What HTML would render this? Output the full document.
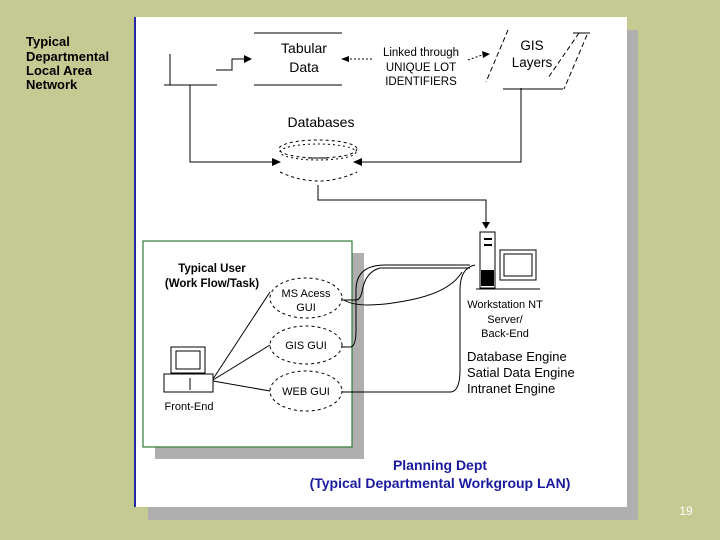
<!DOCTYPE html>
<html><head><style>
html,body{margin:0;padding:0;width:720px;height:540px;overflow:hidden;background:#C5C992;}
svg{display:block;font-family:"Liberation Sans",Arial,sans-serif;}
</style></head><body>
<svg width="720" height="540" viewBox="0 0 720 540">
<rect width="720" height="540" fill="#C5C992"/>
<rect x="148" y="30" width="490" height="490" fill="#AFAFAF"/>
<rect x="135" y="17" width="492" height="490" fill="#fff"/>
<line x1="135" y1="17" x2="135" y2="507" stroke="#2A2AA0" stroke-width="2"/>
<text font-size="13" font-weight="bold" fill="#000"><tspan x="26" y="46">Typical</tspan><tspan x="26" y="61">Departmental</tspan><tspan x="26" y="75">Local Area</tspan><tspan x="26" y="89">Network</tspan></text>
<g stroke="#000" fill="none" stroke-width="1">
<line x1="164" y1="85" x2="217" y2="85"/><line x1="170" y1="54" x2="170" y2="85"/>
<polyline points="216,70 232,70 232,59 244,59"/>
<line x1="254" y1="33" x2="342" y2="33"/><line x1="254" y1="85" x2="342" y2="85"/>
<polyline points="190,85 190,162 272,162"/>
<polyline points="521,88 521,162 362,162"/>
<polyline points="318,185 318,200 486,200 486,222"/>
<line x1="503" y1="89" x2="563" y2="89"/><line x1="573" y1="33" x2="590" y2="33"/>
<line x1="508" y1="30" x2="486" y2="82" stroke-dasharray="5,3"/>
<line x1="587" y1="35" x2="564" y2="89" stroke-dasharray="5,3"/>
<line x1="579" y1="33" x2="548" y2="78" stroke-dasharray="5,3"/>
<line x1="372" y1="59" x2="344" y2="59" stroke-dasharray="2,2"/>
<line x1="468" y1="60" x2="482" y2="55" stroke-dasharray="2,2"/>
<ellipse cx="318" cy="149" rx="39" ry="9" stroke-dasharray="3,3"/>
<ellipse cx="318" cy="152" rx="38" ry="8" stroke-dasharray="2,3"/>
<path d="M280 172 Q318 190 357 172" stroke-dasharray="3,3"/>
<line x1="308" y1="158" x2="328" y2="158"/>
</g>
<g fill="#000">
<polygon points="244,55 252,59 244,63"/>
<polygon points="341,59 349,56 349,62"/>
<polygon points="482,51 490,54 483,58"/>
<polygon points="272,158 281,162 272,166"/>
<polygon points="362,158 353,162 362,166"/>
<polygon points="482,222 490,222 486,229"/>
</g>
<text font-size="14" text-anchor="middle"><tspan x="304" y="53">Tabular</tspan><tspan x="304" y="72">Data</tspan></text>
<text font-size="11.5" text-anchor="middle"><tspan x="421" y="56">Linked through</tspan><tspan x="421" y="71">UNIQUE LOT</tspan><tspan x="421" y="85">IDENTIFIERS</tspan></text>
<text font-size="13.5" text-anchor="middle"><tspan x="532" y="50">GIS</tspan><tspan x="532" y="67">Layers</tspan></text>
<text x="321" y="127" font-size="14" text-anchor="middle">Databases</text>
<rect x="155" y="253" width="209" height="206" fill="#AFAFAF"/>
<rect x="143" y="241" width="209" height="206" fill="#fff" stroke="#2E7D32" stroke-width="1.2"/>
<text font-size="11.5" font-weight="bold" text-anchor="middle"><tspan x="212" y="272">Typical User</tspan><tspan x="212" y="287">(Work Flow/Task)</tspan></text>
<g stroke="#000" fill="none" stroke-width="1">
<ellipse cx="306" cy="298" rx="36" ry="20" stroke-dasharray="3,3"/>
<ellipse cx="306" cy="345" rx="36" ry="19" stroke-dasharray="3,3"/>
<ellipse cx="306" cy="391" rx="36" ry="20" stroke-dasharray="3,3"/>
<line x1="213" y1="379" x2="270" y2="292"/><line x1="213" y1="380" x2="270" y2="345"/><line x1="213" y1="381" x2="270" y2="391"/>
<rect x="171" y="347" width="34" height="26"/><rect x="176" y="351" width="24" height="18"/>
<rect x="164" y="374" width="49" height="18"/><line x1="190" y1="378" x2="190" y2="390"/>
<path d="M342 300 H356 Q360 300 362 292 Q365 272 380 268 H470"/>
<path d="M342 347 H350 Q356 347 356 330 V290 Q356 265 385 265 H470"/>
<path d="M342 392 H450 Q460 392 460 370 V290 Q460 268 475 265"/>
<path d="M344 300 Q360 310 410 300 Q450 292 462 272"/>
<rect x="480" y="232" width="15" height="56"/><rect x="500" y="250" width="36" height="30"/><rect x="504" y="254" width="28" height="22"/>
<line x1="476" y1="289" x2="540" y2="289"/>
</g>
<g fill="#000"><rect x="481" y="270" width="13" height="16"/><rect x="484" y="238" width="8" height="2"/><rect x="484" y="244" width="8" height="2"/></g>
<text font-size="11" text-anchor="middle"><tspan x="306" y="297">MS Acess</tspan><tspan x="306" y="311">GUI</tspan><tspan x="306" y="349">GIS GUI</tspan><tspan x="306" y="395">WEB GUI</tspan><tspan x="189" y="410">Front-End</tspan></text>
<text font-size="11" text-anchor="middle"><tspan x="505" y="308">Workstation NT</tspan><tspan x="505" y="323">Server/</tspan><tspan x="505" y="337">Back-End</tspan></text>
<text font-size="13"><tspan x="467" y="361">Database Engine</tspan><tspan x="467" y="377">Satial Data Engine</tspan><tspan x="467" y="393">Intranet Engine</tspan></text>
<text font-size="14" font-weight="bold" fill="#1A1AA0" text-anchor="middle"><tspan x="440" y="470">Planning Dept</tspan><tspan x="440" y="488">(Typical Departmental Workgroup LAN)</tspan></text>
<text x="686" y="515" font-size="12" fill="#fff" text-anchor="middle">19</text>
</svg>
</body></html>
